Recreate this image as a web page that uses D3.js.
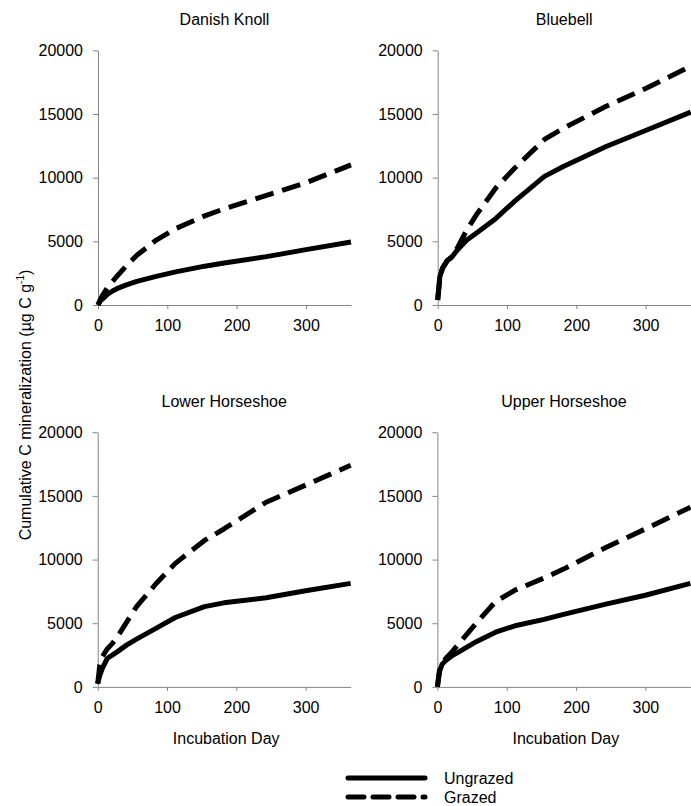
<!DOCTYPE html>
<html>
<head>
<meta charset="utf-8">
<script src="https://cdn.jsdelivr.net/npm/d3@7"></script>
<style>
  html, body { margin: 0; padding: 0; background: #fff; }
  svg { display: block; font-family: "Liberation Sans", Arial, sans-serif; }
</style>
</head>
<body>
<svg id="chart" width="691" height="806"></svg>
<script>
// ---- data ----
const days = [0, 3, 7, 14, 21, 28, 42, 56, 84, 112, 154, 182, 243, 300, 365];
const sites = ["Danish Knoll", "Bluebell", "Lower Horseshoe", "Upper Horseshoe"];
const seriesNames = ["Ungrazed", "Grazed"];

const dkUngrazed = [0, 300, 500, 850, 1100, 1300, 1600, 1850, 2250, 2600, 3050, 3300, 3800, 4350, 4950];
const dkGrazed   = [0, 400, 800, 1400, 1850, 2300, 3150, 3900, 5100, 6000, 7000, 7550, 8600, 9600, 11000];
const bbUngrazed = [400, 2200, 2900, 3500, 3800, 4300, 5100, 5650, 6800, 8200, 10100, 10900, 12450, 13700, 15150];
const bbGrazed   = [400, 2100, 2900, 3500, 3800, 4450, 5900, 7100, 9200, 10800, 13000, 13900, 15600, 17000, 18750];
const lhUngrazed = [250, 900, 1500, 2250, 2500, 2750, 3300, 3750, 4600, 5450, 6300, 6600, 7000, 7550, 8130];
const lhGrazed   = [250, 1700, 2400, 3000, 3400, 3900, 5100, 6300, 8100, 9700, 11500, 12400, 14500, 15850, 17400];
const uhUngrazed = [0, 1200, 1800, 2150, 2450, 2650, 3100, 3550, 4300, 4800, 5300, 5700, 6500, 7200, 8130];
const uhGrazed   = [0, 1300, 1900, 2350, 2750, 3200, 4100, 5000, 6700, 7600, 8550, 9250, 10950, 12400, 14100];

const xTicks = [0, 100, 200, 300];
const yTicks = [0, 5000, 10000, 15000, 20000];

const siteSeries = [
  [dkUngrazed, dkGrazed],
  [bbUngrazed, bbGrazed],
  [lhUngrazed, lhGrazed],
  [uhUngrazed, uhGrazed]
];

// ---- layout ----
const svg = d3.select("#chart");
const panelW = 253, panelH = 254.7;
const panelPos = [
  {x: 98, y: 50.3, xlabel: false},
  {x: 437.7, y: 50.3, xlabel: false},
  {x: 97.7, y: 432.2, xlabel: true},
  {x: 437.4, y: 432.2, xlabel: true}
];
const axisColor = "#858585";
const dashes = {Ungrazed: null, Grazed: "19,9"};

sites.forEach((site, i) => {
  const p = panelPos[i];
  const g = svg.append("g").attr("transform", `translate(${p.x},${p.y})`);
  const x = d3.scaleLinear().domain([0, 365]).range([0, panelW]);
  const y = d3.scaleLinear().domain([0, 20000]).range([panelH, 0]);

  const xa = g.append("g").attr("transform", `translate(0,${panelH})`)
    .call(d3.axisBottom(x).tickValues(xTicks).tickSize(4).tickSizeOuter(0).tickPadding(11).tickFormat(d3.format("d")));
  const ya = g.append("g")
    .call(d3.axisLeft(y).tickValues(yTicks).tickSize(5).tickSizeOuter(0).tickPadding(10).tickFormat(d3.format("d")));
  [xa, ya].forEach(a => {
    a.select(".domain").attr("stroke", axisColor).attr("stroke-width", 1);
    a.selectAll(".tick line").attr("stroke", axisColor);
    a.selectAll(".tick text").attr("fill", "#000").attr("font-size", 16)
      .attr("font-family", "'Liberation Sans', Arial, sans-serif");
  });

  g.append("text").attr("x", panelW / 2).attr("y", -25)
    .attr("text-anchor", "middle").attr("font-size", 16).attr("fill", "#000").text(site);

  if (p.xlabel) {
    g.append("text").attr("x", panelW / 2 + 2).attr("y", panelH + 57)
      .attr("text-anchor", "middle").attr("font-size", 16).attr("fill", "#000").text("Incubation Day");
  }

  const line = d3.line().x((d, k) => x(days[k])).y(d => y(d));
  seriesNames.forEach((name, s) => {
    g.append("path").datum(siteSeries[i][s])
      .attr("d", line)
      .attr("fill", "none")
      .attr("stroke", "#000")
      .attr("stroke-width", 5)
      .attr("stroke-linejoin", "round")
      .attr("stroke-dasharray", dashes[name]);
  });
});

// y axis label
const yl = svg.append("text")
  .attr("transform", "translate(31,405) rotate(-90)")
  .attr("text-anchor", "middle").attr("font-size", 16).attr("fill", "#000");
yl.append("tspan").text("Cumulative C mineralization (\u00b5g C g");
yl.append("tspan").attr("font-size", 10).attr("dy", -7).text("-1");
yl.append("tspan").attr("dy", 7).text(")");

// legend
const legend = svg.append("g");
const legendY = [778, 797];
seriesNames.forEach((name, s) => {
  legend.append("line")
    .attr("x1", 348).attr("x2", 425).attr("y1", legendY[s]).attr("y2", legendY[s])
    .attr("stroke", "#000").attr("stroke-width", 5)
    .attr("stroke-linecap", "round")
    .attr("stroke-dasharray", name === "Grazed" ? "16,9" : null);
  legend.append("text").attr("x", 444).attr("y", legendY[s] + 5.5)
    .attr("font-size", 16).attr("fill", "#000").text(name);
});
</script>
</body>
</html>
